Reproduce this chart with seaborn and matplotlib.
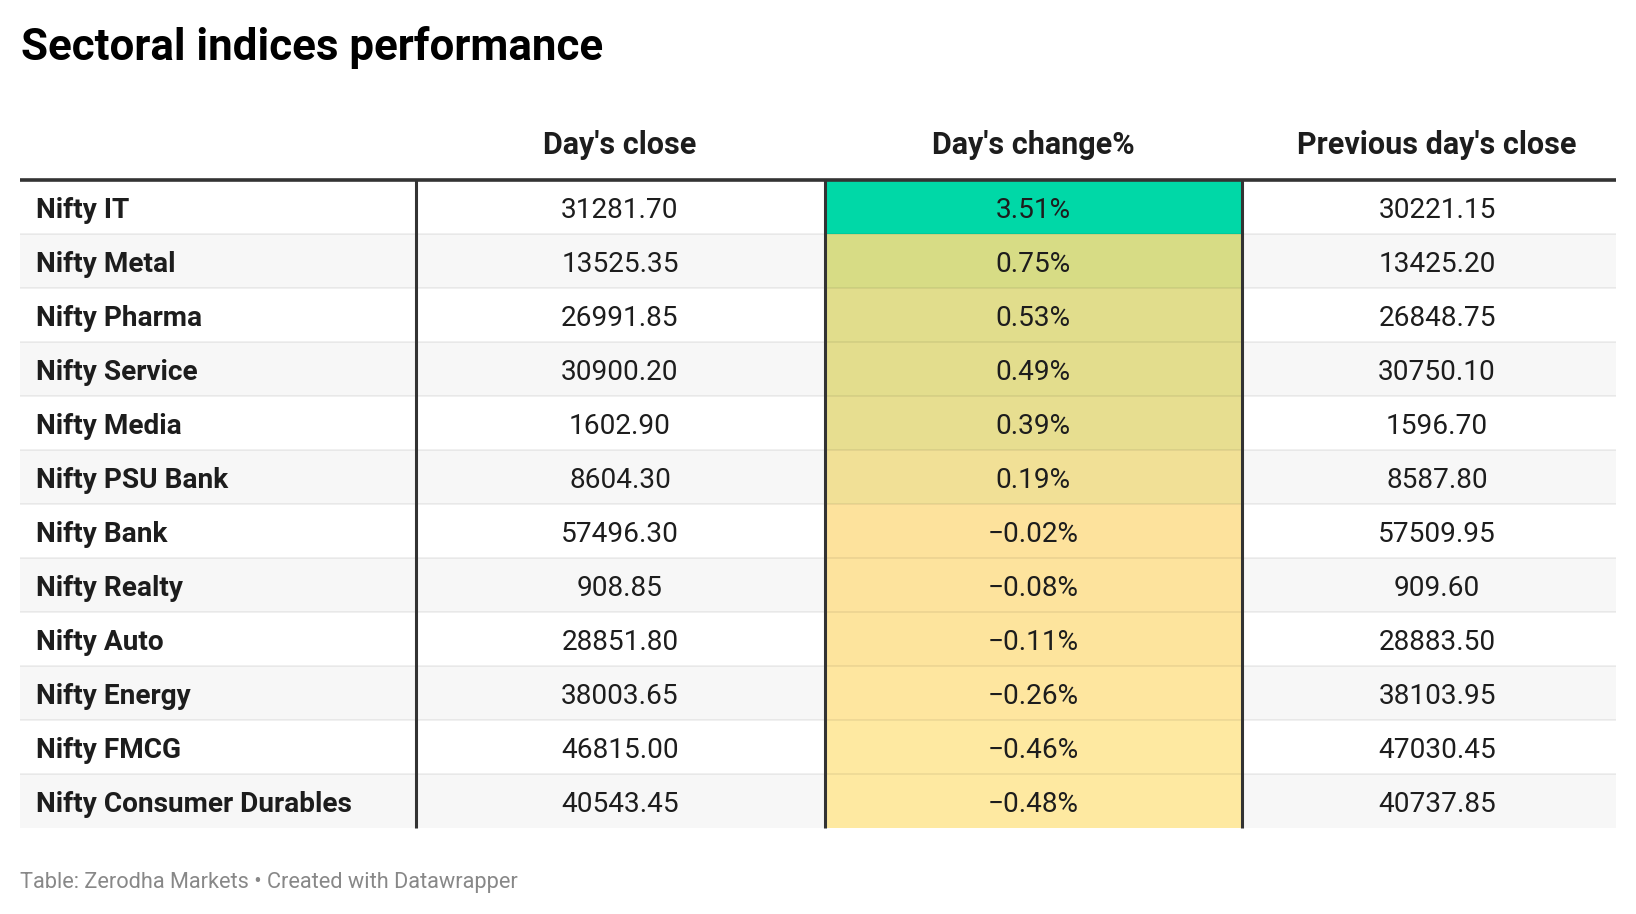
import matplotlib
matplotlib.use("Agg")
import matplotlib.pyplot as plt
from matplotlib.colors import LinearSegmentedColormap
import seaborn as sns
import numpy as np
import pandas as pd

indices = ["Nifty IT", "Nifty Metal", "Nifty Pharma", "Nifty Service", "Nifty Media",
           "Nifty PSU Bank", "Nifty Bank", "Nifty Realty", "Nifty Auto", "Nifty Energy",
           "Nifty FMCG", "Nifty Consumer Durables"]
day_close = [31281.70, 13525.35, 26991.85, 30900.20, 1602.90, 8604.30,
             57496.30, 908.85, 28851.80, 38003.65, 46815.00, 40543.45]
day_change = [3.51, 0.75, 0.53, 0.49, 0.39, 0.19,
              -0.02, -0.08, -0.11, -0.26, -0.46, -0.48]
prev_close = [30221.15, 13425.20, 26848.75, 30750.10, 1596.70, 8587.80,
              57509.95, 909.60, 28883.50, 38103.95, 47030.45, 40737.85]
headers = ["Day's close", "Day's change%", "Previous day's close"]

sns.set_theme(style="white")
plt.rcParams['font.family'] = ['Roboto', 'DejaVu Sans']

W, H = 1636, 914
fig = plt.figure(figsize=(W / 100, H / 100), dpi=100)

# layout in pixels
top, row_h = 180, 54
n = len(indices)
bottom = top + row_h * n
left, right = 20, 1616
dividers = [416, 825, 1242]
col_centers = [620, 1033, 1437]
ink = '#1d1d1d'
body_fs = 20.2

# base layer: stripes
ax = fig.add_axes([0, 0, 1, 1])
ax.set_xlim(0, W)
ax.set_ylim(H, 0)
ax.axis('off')

for i in range(n):
    if i % 2 == 1:
        ax.axhspan(top + i * row_h, top + (i + 1) * row_h,
                   xmin=left / W, xmax=right / W, color='#f7f7f7', lw=0)

# day's change column as a seaborn heatmap
lo, hi = min(day_change), max(day_change)
stops = [(-0.48, '#fee9a1'), (-0.02, '#fde29c'), (0.19, '#f0e096'),
         (0.39, '#e7de90'), (0.75, '#d7dc85'), (3.51, '#00d8a7')]
cmap = LinearSegmentedColormap.from_list(
    'chg', [((v - lo) / (hi - lo), c) for v, c in stops])
hax = fig.add_axes([dividers[1] / W, (H - bottom) / H,
                    (dividers[2] - dividers[1]) / W, (bottom - top) / H])
df = pd.DataFrame({'change': day_change}, index=indices)
sns.heatmap(df, ax=hax, cmap=cmap, vmin=lo, vmax=hi, cbar=False,
            xticklabels=False, yticklabels=False)
hax.set_xlabel('')
hax.set_ylabel('')

# overlay layer: lines and text
ov = fig.add_axes([0, 0, 1, 1])
ov.set_xlim(0, W)
ov.set_ylim(H, 0)
ov.axis('off')
ov.patch.set_alpha(0)

for i in range(1, n):
    y = top + i * row_h
    ov.plot([left, right], [y, y], color='black', alpha=0.08, lw=1.1,
            solid_capstyle='butt')
ov.plot([left, right], [top, top], color='#333333', lw=2.6, solid_capstyle='butt')
for x in dividers:
    ov.plot([x, x], [top, bottom], color='#333333', lw=2.2, solid_capstyle='butt')

ov.text(21, 60, "Sectoral indices performance", fontsize=31.6, fontweight='bold',
        color='black', ha='left', va='baseline')
for h, cx in zip(headers, col_centers):
    ov.text(cx, 154, h, fontsize=22, fontweight='bold', color=ink,
            ha='center', va='baseline')


def fmt_pct(v):
    s = f"{abs(v):.2f}%"
    return ("\u2212" + s) if v < 0 else s


for i in range(n):
    yb = top + i * row_h + 37.5
    ov.text(36, yb, indices[i], fontsize=body_fs, fontweight='bold', color=ink,
            ha='left', va='baseline')
    ov.text(col_centers[0], yb, f"{day_close[i]:.2f}", fontsize=body_fs, color=ink,
            ha='center', va='baseline')
    ov.text(col_centers[1], yb, fmt_pct(day_change[i]), fontsize=body_fs, color=ink,
            ha='center', va='baseline')
    ov.text(col_centers[2], yb, f"{prev_close[i]:.2f}", fontsize=body_fs, color=ink,
            ha='center', va='baseline')

ov.text(20, 888, "Table: Zerodha Markets \u2022 Created with Datawrapper",
        fontsize=15.7, color='#888888', ha='left', va='baseline')

fig.savefig("out.png", dpi=100)
